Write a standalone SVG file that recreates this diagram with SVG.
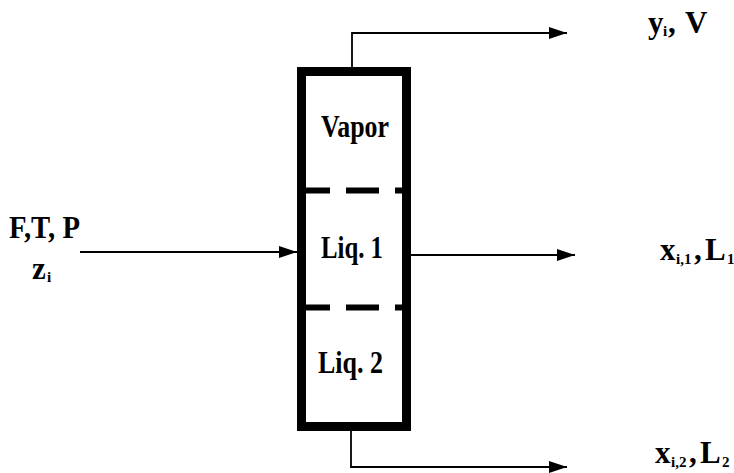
<svg xmlns="http://www.w3.org/2000/svg" width="734" height="473" viewBox="0 0 734 473">
<style>
.t{font-family:"Liberation Serif","Times New Roman",serif;font-weight:bold;fill:#000}
.m{font-size:31px}
.s{font-size:15px}
.ln{fill:none;stroke:#000;stroke-width:1.8}
.dash{fill:none;stroke:#000;stroke-width:6;stroke-dasharray:33 16}
</style>
<defs>
<marker id="ah" markerUnits="userSpaceOnUse" markerWidth="20" markerHeight="14" refX="18" refY="6" orient="auto">
<path d="M0,0 L18,6 L0,12 Z" fill="#000"/>
</marker>
</defs>
<rect width="734" height="473" fill="#fff"/>
<g id="separator">
<rect x="301.5" y="71.5" width="105" height="355" fill="none" stroke="#000" stroke-width="9"/>
<line class="dash" x1="297" y1="190.5" x2="411" y2="190.5"/>
<line class="dash" x1="297" y1="307.5" x2="411" y2="307.5"/>
<text class="t m" x="321" y="137" textLength="68" lengthAdjust="spacingAndGlyphs">Vapor</text>
<text class="t m" x="321" y="258" textLength="62" lengthAdjust="spacingAndGlyphs">Liq. 1</text>
<text class="t m" x="318" y="373" textLength="65" lengthAdjust="spacingAndGlyphs">Liq. 2</text>
</g>
<g id="connectors">
<path class="ln" d="M80,252 H297" marker-end="url(#ah)"/>
<path class="ln" d="M352,67 V33 H567" marker-end="url(#ah)"/>
<path class="ln" d="M411,255 H575" marker-end="url(#ah)"/>
<path class="ln" d="M351,431 V467 H567" marker-end="url(#ah)"/>
</g>
<g id="feed">
<text class="t m" x="9" y="238" textLength="71" lengthAdjust="spacingAndGlyphs">F,T, P</text>
<text class="t m" x="32" y="279">z</text>
<text class="t s" x="47" y="282">i</text>
</g>
<g id="vapor-out">
<text class="t m" x="648" y="33">y</text>
<text class="t s" x="663" y="36">i</text>
<text class="t m" x="668" y="33">,</text>
<text class="t m" x="685" y="33">V</text>
</g>
<g id="liq1-out">
<text class="t m" x="660" y="260">x</text>
<text class="t s" x="676" y="264">i,1</text>
<text class="t m" x="694" y="260">,</text>
<text class="t m" x="705" y="260">L</text>
<text class="t s" x="727" y="264">1</text>
</g>
<g id="liq2-out">
<text class="t m" x="655" y="463">x</text>
<text class="t s" x="671" y="467">i,2</text>
<text class="t m" x="689" y="463">,</text>
<text class="t m" x="700" y="463">L</text>
<text class="t s" x="722" y="467">2</text>
</g>
</svg>
